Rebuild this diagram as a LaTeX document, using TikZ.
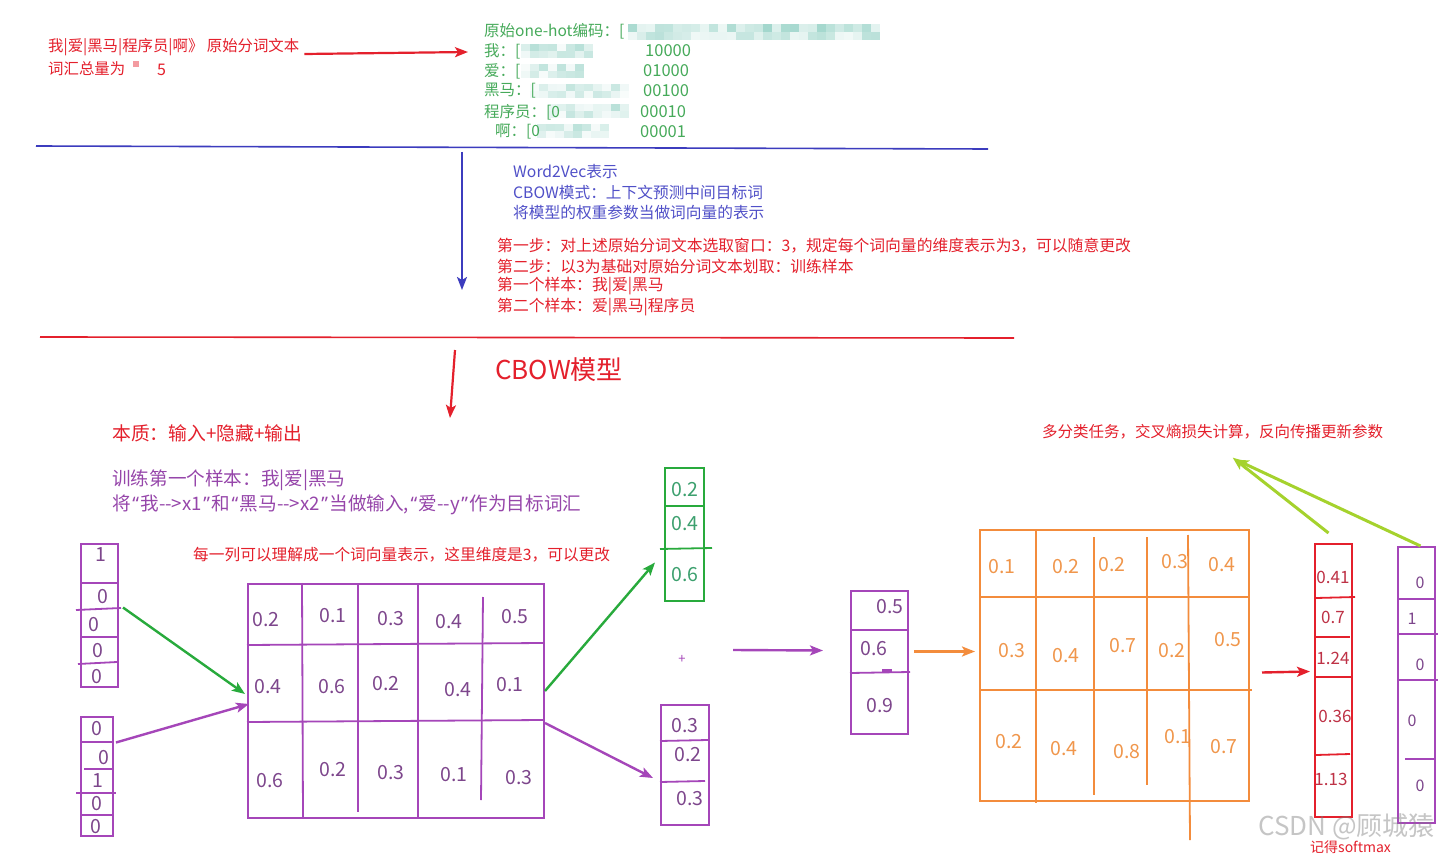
\documentclass[tikz,border=0pt]{standalone}
\usepackage{fontspec}
\setmainfont{Noto Sans CJK SC}
\newfontfamily\latinq{Noto Sans}
\usetikzlibrary{arrows.meta,calc}
\newcommand\myfs[1]{\fontsize{#1}{#1}\selectfont}
\newcommand\myoq{\kern1.5pt{\latinq “}\kern1.5pt}
\newcommand\mycq{\kern1.5pt{\latinq ”}\kern1.5pt}
\definecolor{cred}{RGB}{228,32,44}
\definecolor{cgreen}{RGB}{70,170,90}
\definecolor{cblue}{RGB}{60,60,190}
\definecolor{cbluetxt}{RGB}{80,80,200}
\definecolor{cpurp}{RGB}{165,70,185}
\definecolor{cpurptxt}{RGB}{150,70,170}
\definecolor{cpurpval}{RGB}{125,70,140}
\definecolor{corange}{RGB}{243,140,60}
\definecolor{corangeval}{RGB}{240,150,75}
\definecolor{carrg}{RGB}{40,170,60}
\definecolor{cgreenval}{RGB}{60,160,110}
\definecolor{credval}{RGB}{190,50,70}
\definecolor{cyg}{RGB}{165,210,45}
\definecolor{cmosaic}{RGB}{80,180,160}
\tikzset{
  txt/.style={anchor=west, inner sep=0pt},
  val/.style={inner sep=0pt, font=\myfs{19.5}},
  vbox/.style={draw=#1, line width=2pt, anchor=north west, inner sep=0pt},
  divl/.style={draw=#1, line width=1.8pt},
  arr/.style={draw=#1, line width=2.4pt, -{Stealth[length=13pt,width=10pt,inset=3pt]}},
}
\begin{document}
\begin{tikzpicture}[x=1pt,y=-1pt]
\useasboundingbox (0,0) rectangle (1444,856);
\fill[white] (0,0) rectangle (1444,856);

% ---------- top block ----------
\node[txt, text=cred, font=\myfs{15.4}] (raw) at (48,47) {我|爱|黑马|程序员|啊》 原始分词文本};
\node[txt, text=cred, font=\myfs{15.4}] (vocab) at (48,69) {词汇总量为};
\fill[cred!45] (133,61) rectangle (139,67);
\node[txt, text=cred, font=\myfs{16}] (five) at (157,70) {5};

% mosaic (blurred parts)
\pgfmathsetseed{7}
\foreach \i in {0,...,27} {
  \pgfmathsetmacro\xx{628+9*\i}
  \pgfmathsetmacro\op{0.08+0.45*rnd}
  \fill[cmosaic, opacity=\op] (\xx,24) rectangle ++(9,8);
  \pgfmathsetmacro\op{0.05+0.35*rnd}
  \fill[cmosaic, opacity=\op] (\xx,32) rectangle ++(9,8);
}
\foreach \yy/\xa/\nn in {44/521/7, 64/521/6, 84/530/10, 104/548/8, 124/537/7} {
  \foreach \i in {0,...,\nn} {
    \pgfmathsetmacro\xx{\xa+9*\i}
    \pgfmathsetmacro\yb{\yy+7}
    \pgfmathsetmacro\op{0.04+0.4*rnd}
    \fill[cmosaic, opacity=\op] (\xx,\yy) rectangle ++(9,7);
    \pgfmathsetmacro\op{0.03+0.3*rnd}
    \fill[cmosaic, opacity=\op] (\xx,\yb) rectangle ++(9,7);
  }
}

\node[txt, text=cgreen, font=\myfs{15.5}] (oh0) at (484,31) {原始one-hot编码：[};
\node[txt, text=cgreen, font=\myfs{15.5}] (oh1) at (484,51) {我：[};
\node[txt, text=cgreen, font=\myfs{15.5}] (oh2) at (484,71) {爱：[};
\node[txt, text=cgreen, font=\myfs{15.5}] (oh3) at (484,91) {黑马：[};
\node[txt, text=cgreen, font=\myfs{15.5}] (oh4) at (484,112) {程序员：[0};
\node[txt, text=cgreen, font=\myfs{15.5}] (oh5) at (495,132) {啊：[0};
\node[txt, text=cgreen, font=\myfs{16.5}] (c1) at (645,51) {10000};
\node[txt, text=cgreen, font=\myfs{16.5}] (c2) at (643,71) {01000};
\node[txt, text=cgreen, font=\myfs{16.5}] (c3) at (643,91) {00100};
\node[txt, text=cgreen, font=\myfs{16.5}] (c4) at (640,112) {00010};
\node[txt, text=cgreen, font=\myfs{16.5}] (c5) at (640,132) {00001};

\draw[arr=cred, line width=2.2pt] ($(raw.east)+(5,7)$) -- ($(oh1.west)+(-16,1)$);

% ---------- blue section ----------
\coordinate (bl1) at (36,146);
\coordinate (bl2) at (988,149);
\draw[cblue, line width=1.6pt] (bl1) -- (bl2);
\coordinate (bs) at (462,152);
\coordinate (be) at (462,290);
\draw[arr=cblue, line width=1.8pt] (bs) -- (be);

\node[txt, text=cbluetxt, font=\myfs{15.7}] (w1) at (513,172) {Word2Vec表示};
\node[txt, text=cbluetxt, font=\myfs{15.7}] (w2) at (513,192) {CBOW模式：上下文预测中间目标词};
\node[txt, text=cbluetxt, font=\myfs{15.7}] (w3) at (513,213) {将模型的权重参数当做词向量的表示};

\node[txt, text=cred, font=\myfs{15.8}] (s1) at (497,246) {第一步：对上述原始分词文本选取窗口：3，规定每个词向量的维度表示为3，可以随意更改};
\node[txt, text=cred, font=\myfs{15.8}] (s2) at (497,266) {第二步：以3为基础对原始分词文本划取：训练样本};
\node[txt, text=cred, font=\myfs{15.8}] (s3) at (497,286) {第一个样本：我|爱|黑马};
\node[txt, text=cred, font=\myfs{15.8}] (s4) at (497,307) {第二个样本：爱|黑马|程序员};

% ---------- red section ----------
\coordinate (rl1) at (40,337);
\coordinate (rl2) at (1014,338);
\draw[cred, line width=1.6pt] (rl1) -- (rl2);
\coordinate (rs) at (455,350);
\coordinate (re) at (450,418);
\draw[arr=cred, line width=2.2pt] (rs) -- (re);
\node[txt, text=cred, font=\myfs{26}] (cbow) at (495,370) {CBOW模型};

\node[txt, text=cred, font=\myfs{18.8}] (ess) at (112,433) {本质：输入+隐藏+输出};
\node[txt, text=cpurptxt, font=\myfs{18.6}] (tr1) at (112,480) {训练第一个样本：我|爱|黑马};
\node[txt, text=cpurptxt, font=\myfs{18.6}] (tr2) at (112,505) {将\myoq 我-{}->x1\mycq 和\myoq 黑马-{}->x2\mycq 当做输入,\myoq 爱-{}-y\mycq 作为目标词汇};
\node[txt, text=cred, font=\myfs{15.7}] (col) at (193,555) {每一列可以理解成一个词向量表示，这里维度是3，可以更改};

% ---------- input one-hot vectors ----------
\node[vbox=cpurp, minimum width=37pt, minimum height=143pt] (in1) at (80,543) {};
\draw[divl=cpurp] (80,583) -- (117,583);
\draw[divl=cpurp] (76,610) -- (121,608);
\draw[divl=cpurp] (80,637) -- (117,637);
\draw[divl=cpurp] (78,664) -- (117,662);
\node[val, text=cpurpval] (i11) at (101,555) {1};
\node[val, text=cpurpval] (i12) at (103,597) {0};
\node[val, text=cpurpval] (i13) at (94,625) {0};
\node[val, text=cpurpval] (i14) at (98,651) {0};
\node[val, text=cpurpval] (i15) at (97,677) {0};

\node[vbox=cpurp, minimum width=32pt, minimum height=119pt] (in2) at (80,716) {};
\draw[divl=cpurp] (80,742) -- (114,742);
\draw[divl=cpurp] (84,769) -- (112,769);
\draw[divl=cpurp] (76,793) -- (116,793);
\draw[divl=cpurp] (80,815) -- (112,815);
\node[val, text=cpurpval] (i21) at (97,729) {0};
\node[val, text=cpurpval] (i22) at (104,758) {0};
\node[val, text=cpurpval] (i23) at (98,781) {1};
\node[val, text=cpurpval] (i24) at (97,804) {0};
\node[val, text=cpurpval] (i25) at (96,827) {0};

% ---------- weight matrix W ----------
\node[vbox=cpurp, minimum width=296pt, minimum height=234pt] (W) at (247,583) {};
\draw[divl=cpurp] (247,645) -- (543,643);
\draw[divl=cpurp] (247,722) -- (543,720);
\draw[divl=cpurp] (302,583) -- (303,817);
\draw[divl=cpurp] (358,583) -- (358,812);
\draw[divl=cpurp] (418,583) -- (418,817);
\draw[divl=cpurp] (483,597) -- (481,800);
\foreach \x/\y/\v [count=\k] in {266/620/0.2, 333/616/0.1, 391/619/0.3, 449/622/0.4, 515/617/0.5,
  268/687/0.4, 332/687/0.6, 386/684/0.2, 458/690/0.4, 510/685/0.1,
  270/781/0.6, 333/770/0.2, 391/773/0.3, 454/775/0.1, 519/778/0.3}
  \node[val, text=cpurpval] (w\k) at (\x,\y) {\v};

\draw[arr=carrg] ($(in1.east)+(4,-8)$) -- ($(W.west)+(-2,-7)$);
\draw[arr=cpurp] ($(in2.east)+(2,-34)$) -- ($(W.west)+(2,3)$);

% ---------- projected vectors ----------
\node[vbox=carrg, minimum width=39pt, minimum height=133pt] (GB) at (664,467) {};
\draw[divl=carrg] (664,506) -- (703,506);
\draw[divl=carrg] (660,549) -- (712,548);
\node[val, text=cgreenval] (g1) at (685,490) {0.2};
\node[val, text=cgreenval] (g2) at (685,524) {0.4};
\node[val, text=cgreenval] (g3) at (685,575) {0.6};

\node[vbox=cpurp, minimum width=48pt, minimum height=120pt] (PB) at (660,704) {};
\draw[divl=cpurp] (660,741) -- (708,740);
\draw[divl=cpurp] (660,782) -- (705,781);
\node[val, text=cpurpval] (p1) at (685,726) {0.3};
\node[val, text=cpurpval] (p2) at (688,755) {0.2};
\node[val, text=cpurpval] (p3) at (690,799) {0.3};

\draw[arr=carrg] ($(W.east)+(0,-10)$) -- ($(GB.west)+(-9,28)$);
\draw[arr=cpurp] ($(W.east)+(0,22)$) -- ($(PB.west)+(-7,13)$);

\node[inner sep=0pt, text=cpurp, font=\myfs{13}] (plus) at (682,659) {+};

% ---------- hidden vector ----------
\node[vbox=cpurp, minimum width=57pt, minimum height=143pt] (H) at (850,590) {};
\draw[divl=cpurp] (850,630) -- (907,630);
\draw[divl=cpurp] (850,673) -- (910,672);
\draw[cpurp, line width=3.5pt] (882,671) -- (892,671);
\node[val, text=cpurpval] (h1) at (890,607) {0.5};
\node[val, text=cpurpval] (h2) at (874,649) {0.6};
\node[val, text=cpurpval] (h3) at (880,706) {0.9};

\coordinate (sumstart) at (733,650);
\draw[arr=cpurp] (sumstart) -- ($(H.west)+(-27,-12)$);

% ---------- output matrix ----------
\node[vbox=corange, minimum width=269pt, minimum height=271pt] (O) at (979,529) {};
\draw[divl=corange] (979,597) -- (1248,597);
\draw[divl=corange] (979,690) -- (1252,690);
\draw[divl=corange] (1036,529) -- (1036,803);
\draw[divl=corange] (1094,537) -- (1094,795);
\draw[divl=corange] (1147,537) -- (1147,785);
\draw[divl=corange] (1188,535) -- (1190,840);
\foreach \x/\y/\v [count=\k] in {1002/567/0.1, 1066/567/0.2, 1112/565/0.2, 1175/562/0.3, 1222/565/0.4,
  1012/651/0.3, 1066/656/0.4, 1123/646/0.7, 1172/651/0.2, 1228/640/0.5,
  1009/742/0.2, 1064/749/0.4, 1127/752/0.8, 1178/737/0.1, 1224/747/0.7}
  \node[val, text=corangeval] (o\k) at (\x,\y) {\v};

\draw[arr=corange] ($(H.east)+(5,-11)$) -- ($(O.west)+(-4,-14)$);

% ---------- softmax output ----------
\node[vbox=cred, minimum width=37pt, minimum height=273pt] (R) at (1314,543) {};
\draw[divl=cred] (1316,598) -- (1355,597);
\draw[divl=cred] (1316,637) -- (1350,637);
\draw[divl=cred] (1316,677) -- (1352,677);
\draw[divl=cred] (1316,755) -- (1350,754);
\node[val, text=credval, font=\myfs{17}] (r1) at (1333,577) {0.41};
\node[val, text=credval, font=\myfs{17}] (r2) at (1333,617) {0.7};
\node[val, text=credval, font=\myfs{17}] (r3) at (1333,658) {1.24};
\node[val, text=credval, font=\myfs{17}] (r4) at (1335,716) {0.36};
\node[val, text=credval, font=\myfs{17}] (r5) at (1331,779) {1.13};

\draw[arr=cred] ($(O.east)+(12,7)$) -- ($(R.west)+(-4,-9)$);

% ---------- target one-hot ----------
\node[vbox=cpurp, minimum width=37pt, minimum height=276pt] (P) at (1397,546) {};
\draw[divl=cpurp] (1399,599) -- (1434,599);
\draw[divl=cpurp] (1399,634) -- (1438,634);
\draw[divl=cpurp] (1399,680) -- (1438,680);
\draw[divl=cpurp] (1405,759) -- (1434,759);
\node[val, text=cpurpval, font=\myfs{16}] (t1) at (1420,583) {0};
\node[val, text=cpurpval, font=\myfs{16}] (t2) at (1412,619) {1};
\node[val, text=cpurpval, font=\myfs{16}] (t3) at (1420,665) {0};
\node[val, text=cpurpval, font=\myfs{16}] (t4) at (1412,721) {0};
\node[val, text=cpurpval, font=\myfs{16}] (t5) at (1420,786) {0};

% ---------- loss ----------
\node[txt, text=cred, font=\myfs{15.5}] (loss) at (1042,432) {多分类任务，交叉熵损失计算，反向传播更新参数};
\draw[arr=cyg, line width=3pt] ($(R.north)+(-5,-10)$) -- ($(loss.south)+(20,18)$);
\draw[arr=cyg, line width=3pt] ($(P.north)+(4,0)$) -- ($(loss.south)+(23,20)$);

\node[txt, text=gray, opacity=0.45, font=\myfs{26}] (wm) at (1258,827) {CSDN @顾城猿};
\node[txt, text=cred, font=\myfs{14}] (sm) at (1310,847) {记得softmax};
\end{tikzpicture}
\end{document}
